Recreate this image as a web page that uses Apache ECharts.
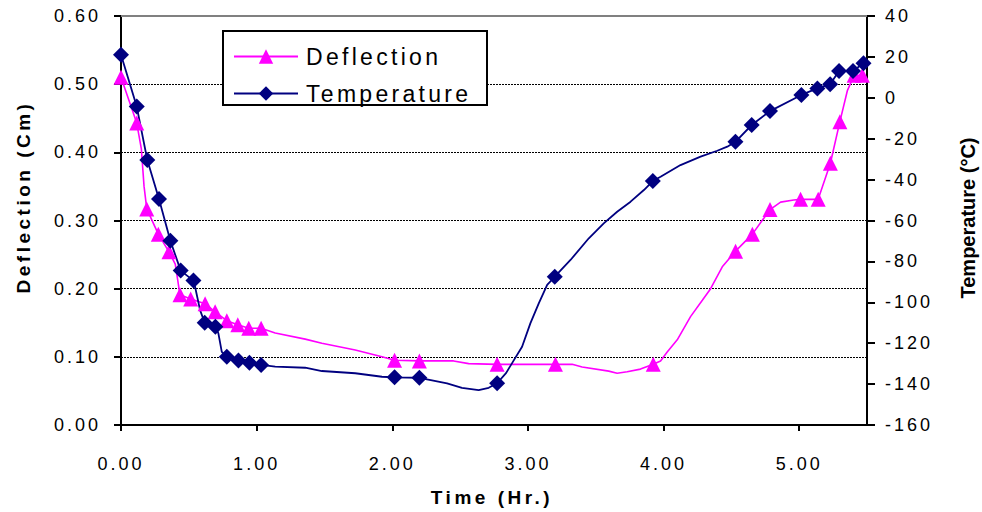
<!DOCTYPE html>
<html>
<head>
<meta charset="utf-8">
<script src="https://cdn.jsdelivr.net/npm/echarts@6/dist/echarts.min.js"></script>
<style>
html,body{margin:0;padding:0;background:#fff;}
#c{width:982px;height:512px;}
#c text{letter-spacing:3px;}
#c text[style*="23px"]{letter-spacing:3.3px;}
#c text[style*="19px"]{letter-spacing:3.5px;}
#c text[style*="20px"]{letter-spacing:0px;}
</style>
</head>
<body>
<div id="c"></div>
<script>
// ---- data ----
// Deflection series (time in hr, deflection in cm, 1 = marker shown)
const deflTime   = [0.000,0.116,0.150,0.170,0.190,0.275,0.354,0.400,0.435,0.514,0.620,0.694,0.780,0.861,0.942,1.033,1.137,1.358,1.481,1.727,1.924,2.017,2.200,2.452,2.563,2.773,3.203,3.326,3.400,3.596,3.658,3.732,3.830,3.924,3.978,4.027,4.101,4.199,4.286,4.347,4.433,4.531,4.655,4.785,4.863,4.960,5.010,5.140,5.230,5.300,5.356,5.405,5.466];
const deflValue  = [0.510,0.443,0.405,0.350,0.317,0.280,0.254,0.236,0.191,0.185,0.178,0.166,0.153,0.147,0.142,0.142,0.135,0.126,0.120,0.110,0.100,0.095,0.094,0.094,0.090,0.089,0.089,0.089,0.085,0.079,0.076,0.078,0.082,0.089,0.094,0.107,0.125,0.159,0.183,0.200,0.232,0.255,0.280,0.316,0.327,0.330,0.331,0.331,0.384,0.445,0.491,0.513,0.513];
const deflMarker = [1,1,0,0,1,1,1,0,1,1,1,1,1,1,1,1,0,0,0,0,0,1,1,0,0,1,1,0,0,0,0,0,0,1,0,0,0,0,0,0,0,1,1,1,0,0,1,1,1,1,0,1,1];

// Temperature series (time in hr, temperature in °C, 1 = marker shown)
const tempTime   = [0.000,0.116,0.194,0.280,0.364,0.440,0.534,0.546,0.583,0.617,0.696,0.718,0.743,0.780,0.866,0.947,1.033,1.137,1.358,1.481,1.727,1.924,2.017,2.200,2.284,2.404,2.514,2.637,2.711,2.773,2.840,2.890,2.957,3.018,3.080,3.142,3.198,3.314,3.449,3.559,3.658,3.757,3.855,3.921,3.978,4.125,4.273,4.396,4.470,4.530,4.650,4.785,5.016,5.134,5.228,5.294,5.397,5.474];
const tempValue  = [21.0,-4.3,-30.4,-49.5,-69.9,-84.5,-89.4,-92.4,-103.8,-110.0,-111.9,-115.2,-124.2,-126.6,-128.5,-129.5,-130.6,-131.5,-132.0,-133.6,-134.7,-136.4,-136.7,-136.9,-138.0,-139.6,-141.8,-142.9,-141.8,-139.6,-134.5,-129.0,-121.7,-110.3,-100.5,-91.5,-87.5,-79.3,-68.7,-61.4,-55.7,-50.8,-45.1,-40.7,-38.6,-32.9,-28.8,-25.9,-23.9,-21.5,-13.3,-6.5,1.4,4.6,6.6,13.1,13.1,16.9];
const tempMarker = [1,1,1,1,1,1,1,0,0,1,1,0,0,1,1,1,1,0,0,0,0,0,1,1,0,0,0,0,0,1,0,0,0,0,0,0,1,0,0,0,0,0,0,1,0,0,0,0,0,1,1,1,1,1,1,1,1,1];

// axes
const timeTicks = {min:0, max:5.5, interval:1};
const deflTicks = {min:0, max:0.6, interval:0.1};
const tempTicks = {min:-160, max:40, interval:20};

const seriesNames = ['Deflection','Temperature'];
const xTitle = 'Time (Hr.)';
const yLeftTitle = 'Deflection (Cm)';
const yRightTitle = 'Temperature (°C)';

// ---- build ----
function build(times, vals, marks){
  return times.map((t,i)=> marks[i] ? {value:[t,vals[i]]} : {value:[t,vals[i]], symbol:'none'});
}

const FONT = '"Liberation Sans", Arial, sans-serif';
const chart = echarts.init(document.getElementById('c'), null, {renderer:'svg'});

chart.setOption({
  animation:false,
  backgroundColor:'#fff',
  textStyle:{fontFamily:FONT},
  grid:{left:121, right:115, top:16, bottom:87, containLabel:false},
  legend:{
    orient:'vertical', left:233, top:45, padding:0,
    itemWidth:64, itemHeight:18, itemGap:14,
    data:seriesNames,
    selectedMode:false,
    textStyle:{fontFamily:FONT, fontSize:23, color:'#000', padding:[0,0,0,3]}
  },
  xAxis:[{
    type:'value', position:'bottom',
    min:timeTicks.min, max:timeTicks.max, interval:timeTicks.interval,
    axisLine:{show:true, onZero:false, lineStyle:{color:'#000', width:2}},
    axisTick:{show:true, inside:false, length:6, lineStyle:{color:'#000', width:2}},
    axisLabel:{show:true, margin:30, fontSize:18, color:'#000', fontFamily:FONT, showMaxLabel:false,
               formatter:v=>v.toFixed(2)},
    splitLine:{show:false}
  },{
    type:'value', position:'top',
    min:timeTicks.min, max:timeTicks.max,
    axisLine:{show:true, onZero:false, lineStyle:{color:'#808080', width:2}},
    axisTick:{show:false}, axisLabel:{show:false}, splitLine:{show:false}
  }],
  yAxis:[{
    type:'value', position:'left',
    min:deflTicks.min, max:deflTicks.max, interval:deflTicks.interval,
    axisLine:{show:true, onZero:false, lineStyle:{color:'#000', width:2}},
    axisTick:{show:true, inside:false, length:7, lineStyle:{color:'#000', width:2}},
    axisLabel:{margin:20, fontSize:18, color:'#000', fontFamily:FONT, formatter:v=>v.toFixed(2)},
    splitLine:{show:true, lineStyle:{color:'#000', width:1, type:[2,1]}}
  },{
    type:'value', position:'right',
    min:tempTicks.min, max:tempTicks.max, interval:tempTicks.interval,
    axisLine:{show:true, onZero:false, lineStyle:{color:'#000', width:2}},
    axisTick:{show:true, inside:false, length:8, lineStyle:{color:'#000', width:2}},
    axisLabel:{margin:18, fontSize:18, color:'#000', fontFamily:FONT},
    splitLine:{show:false}
  }],
  graphic:[
    {type:'rect', z:3, shape:{x:223, y:31, width:264, height:74},
     style:{fill:'#fff', stroke:'#000', lineWidth:2}},
    {type:'text', x:23, y:197, rotation:Math.PI/2, z:5,
     style:{text:yLeftTitle, font:'bold 19px '+FONT, fill:'#000', textAlign:'center', textVerticalAlign:'middle'}},
    {type:'text', x:968, y:218, rotation:Math.PI/2, z:5,
     style:{text:yRightTitle, font:'bold 20px '+FONT, fill:'#000', textAlign:'center', textVerticalAlign:'middle'}},
    {type:'text', x:492, y:497, z:5,
     style:{text:xTitle, font:'bold 19px '+FONT, fill:'#000', textAlign:'center', textVerticalAlign:'middle'}}
  ],
  series:[{
    name:seriesNames[0], type:'line', xAxisIndex:0, yAxisIndex:0,
    data:build(deflTime, deflValue, deflMarker),
    symbol:'triangle', symbolSize:15, showAllSymbol:true,
    lineStyle:{color:'#FF00FF', width:1.6},
    itemStyle:{color:'#FF00FF'},
    z:2
  },{
    name:seriesNames[1], type:'line', xAxisIndex:0, yAxisIndex:1,
    data:build(tempTime, tempValue, tempMarker),
    symbol:'diamond', symbolSize:16, showAllSymbol:true,
    lineStyle:{color:'#000080', width:1.8},
    itemStyle:{color:'#000080'},
    z:2
  }]
});
</script>
</body>
</html>
